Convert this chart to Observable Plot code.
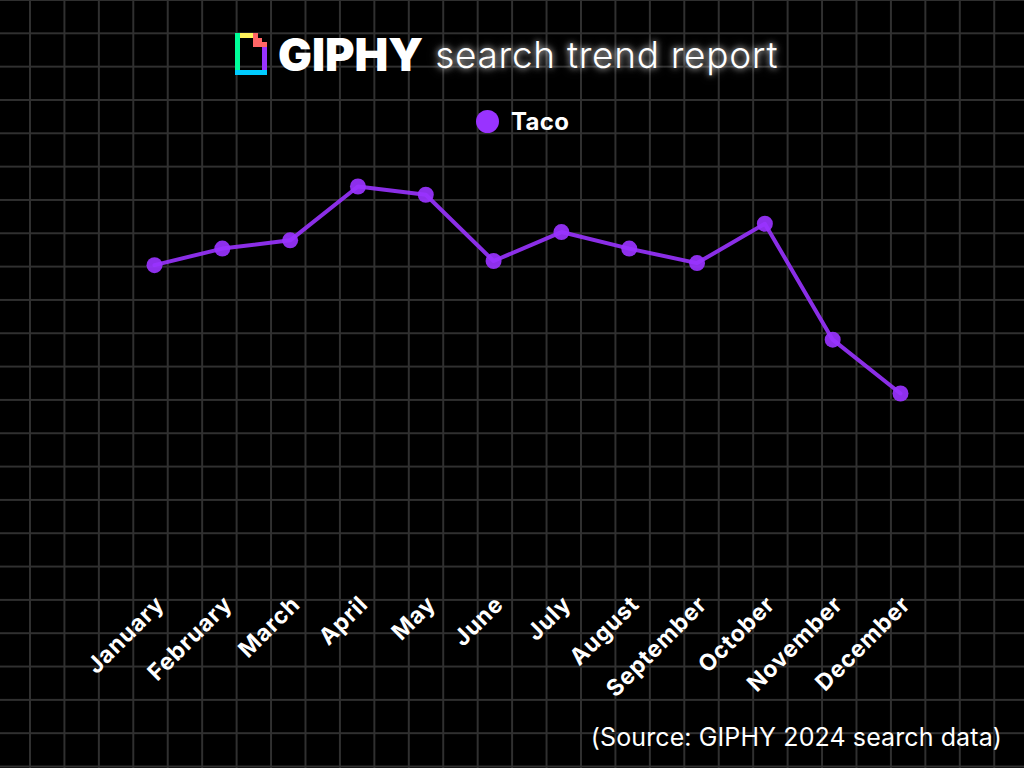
<!DOCTYPE html>
<html>
<head>
<meta charset="utf-8">
<script src="https://cdn.jsdelivr.net/npm/d3@7"></script>
<script src="https://cdn.jsdelivr.net/npm/@observablehq/plot@0.6"></script>
<style>
  html, body { margin: 0; padding: 0; }
  body {
    width: 1024px; height: 768px; overflow: hidden; position: relative;
    background-color: #000;
    background-image:
      linear-gradient(to right, #303030 2px, transparent 2px),
      linear-gradient(to bottom, #303030 2px, transparent 2px);
    background-size: 34.44px 33.333px;
    background-position: 29px -1px;
    font-family: "Inter", "Open Sans", sans-serif;
    color: #fff;
  }
  #title { position: absolute; left: 235px; top: 29px; height: 50px; display: flex; align-items: center; white-space: nowrap; }
  #title .brand { font-weight: 900; font-size: 45px; letter-spacing: 0px; margin-left: 11px; }
  #title .sub { font-weight: 300; font-size: 37px; letter-spacing: 0.7px; margin-left: 12px; text-shadow: 0 0 6px rgba(255,255,255,0.8), 0 0 12px rgba(255,255,255,0.4); }
  #legend { position: absolute; left: 476px; top: 107px; display: flex; align-items: center; font-weight: 700; font-size: 24px; letter-spacing: 0.3px; }
  #legend .dot { width: 23px; height: 23px; border-radius: 50%; background: #9933ff; margin-right: 12px; }
  #chart { position: absolute; left: 0; top: 150px; }
  #chart svg g[aria-label="x-axis tick label"] text { letter-spacing: 0.8px; }
  #caption { position: absolute; right: 22px; top: 722px; font-size: 25px; font-weight: 400; letter-spacing: 0.1px; }
</style>
</head>
<body>
<div id="title">
  <svg width="32" height="42" viewBox="0 0 32 42">
    <rect x="0" y="0" width="18" height="5" fill="#fff35c"/>
    <rect x="0" y="0" width="5" height="42" fill="#00ff99"/>
    <rect x="0" y="37" width="32" height="5" fill="#00ccff"/>
    <rect x="27" y="13" width="5" height="29" fill="#9933ff"/>
    <rect x="27" y="37" width="5" height="5" fill="#00ccff"/>
    <path d="M18 0 H23 V5 H27 V9 H32 V14 H18 Z" fill="#ff6666"/>
  </svg>
  <span class="brand">GIPHY</span>
  <span class="sub">search trend report</span>
</div>
<div id="legend"><div class="dot"></div><span id="series-name"></span></div>
<div id="chart"></div>
<div id="caption">(Source: GIPHY 2024 search data)</div>
<script>
const seriesName = "Taco";
const months = ["January","February","March","April","May","June","July","August","September","October","November","December"];
const values = [81, 85, 87, 100, 98, 82, 89, 85, 81.5, 91, 63, 50];

document.getElementById("series-name").textContent = seriesName;

const data = months.map((m, i) => ({month: m, value: values[i]}));
const purple = "#9933ff";

const chart = Plot.plot({
  width: 1024,
  height: 570,
  marginTop: 36,
  marginBottom: 120,
  marginLeft: 154,
  marginRight: 124,
  style: {background: "transparent", color: "#fff", fontFamily: "Inter, 'Open Sans', sans-serif"},
  x: {type: "point", domain: months, padding: 0, round: false, label: null},
  y: {domain: [0, 100], axis: null},
  marks: [
    Plot.axisX({tickSize: 0, tickRotate: -45, tickPadding: 6, fontSize: 23, fontWeight: 700, fill: "#fff", dx: 6, dy: -6, label: null}),
    Plot.line(data, {x: "month", y: "value", stroke: purple, strokeWidth: 4, strokeOpacity: 0.9}),
    Plot.dot(data, {x: "month", y: "value", r: 8, fill: purple, fillOpacity: 0.92})
  ]
});
document.getElementById("chart").appendChild(chart);
</script>
</body>
</html>
